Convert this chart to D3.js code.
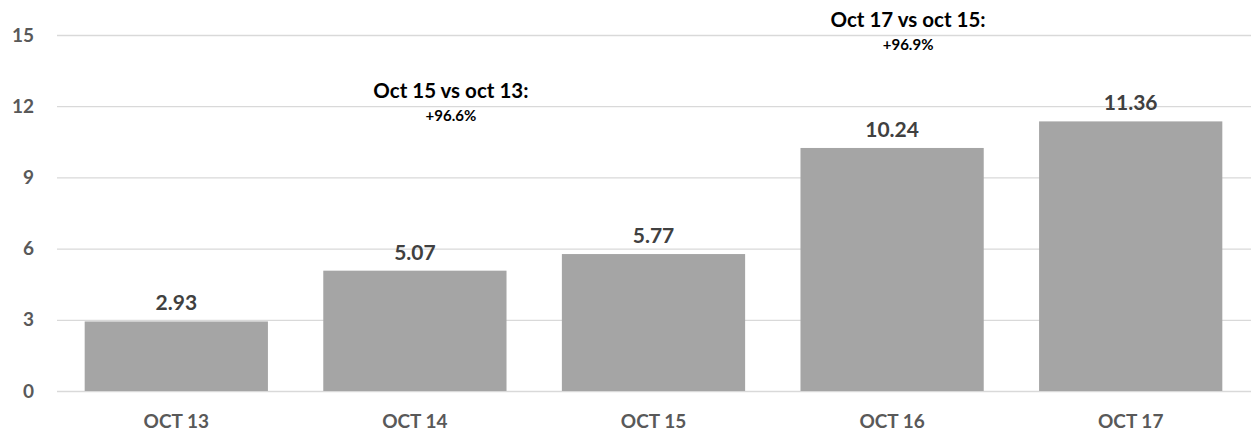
<!DOCTYPE html>
<html>
<head>
<meta charset="utf-8">
<script src="https://cdn.jsdelivr.net/npm/d3@7"></script>
<style>
  body { margin: 0; background: #fff; }
  svg text { font-family: Lato, "Open Sans", sans-serif; font-weight: bold; }
</style>
</head>
<body>
<div id="chart"></div>
<script>
// Chart data
//=================================
var days = ["OCT 13", "OCT 14", "OCT 15", "OCT 16", "OCT 17"];
var values = [2.93, 5.07, 5.77, 10.24, 11.36];
var yTicks = [0, 3, 6, 9, 12, 15];

// annotation text, placed over a category and a value level
var noteCats = ["OCT 14", "OCT 16"];
var noteTitles = ["Oct 15 vs oct 13:", "Oct 17 vs oct 15:"];
var noteChanges = ["+96.6%", "+96.9%"];
var noteLevels = [12, 15];

// Set up the chart
//=================================
var svgWidth = 1251;
var svgHeight = 433;

var svg = d3.select("#chart")
  .append("svg")
  .attr("width", svgWidth)
  .attr("height", svgHeight);

var xScale = d3.scaleBand()
  .domain(days)
  .range([57, 1250])
  .paddingInner(0.232)
  .paddingOuter(0.116);

var yScale = d3.scaleLinear()
  .domain([0, 15])
  .range([391, 35]);

// gridlines + y labels
var yAxis = svg.append("g")
  .attr("transform", "translate(57,0)")
  .call(d3.axisLeft(yScale).tickValues(yTicks).tickSize(-(svgWidth - 57)).tickPadding(23));
yAxis.select(".domain").remove();
yAxis.selectAll("line").attr("stroke", "#d9d9d9").attr("stroke-width", 1.3);
yAxis.selectAll("text")
  .attr("fill", "#595959")
  .attr("font-size", "19px");

// bars
svg.selectAll(".bar")
  .data(values)
  .enter()
  .append("rect")
  .attr("class", "bar")
  .attr("x", (d, i) => xScale(days[i]))
  .attr("y", d => yScale(d))
  .attr("width", xScale.bandwidth())
  .attr("height", d => yScale(0) - yScale(d))
  .attr("fill", "#a5a5a5");

// value labels
svg.selectAll(".val")
  .data(values)
  .enter()
  .append("text")
  .attr("class", "val")
  .attr("x", (d, i) => xScale(days[i]) + xScale.bandwidth() / 2)
  .attr("y", d => yScale(d) - 11)
  .attr("text-anchor", "middle")
  .attr("fill", "#404040")
  .attr("font-size", "21px")
  .text(d => d.toFixed(2));

// x labels
var xAxis = svg.append("g")
  .attr("transform", "translate(0,391)")
  .call(d3.axisBottom(xScale).tickSize(0).tickPadding(24));
xAxis.select(".domain").remove();
xAxis.selectAll("text")
  .attr("fill", "#595959")
  .attr("font-size", "19px");

// annotations, nudged right of the bar centre like the original text boxes
var noteShift = [36, 16];
noteCats.forEach(function(c, i) {
  var cx = xScale(c) + xScale.bandwidth() / 2 + noteShift[i];
  var yl = yScale(noteLevels[i]);
  svg.append("text")
    .attr("x", cx)
    .attr("y", yl - 8)
    .attr("text-anchor", "middle")
    .attr("fill", "#000")
    .attr("font-size", "20.5px")
    .text(noteTitles[i]);
  svg.append("text")
    .attr("x", cx)
    .attr("y", yl + 15)
    .attr("text-anchor", "middle")
    .attr("fill", "#000")
    .attr("font-size", "15px")
    .text(noteChanges[i]);
});
</script>
</body>
</html>
